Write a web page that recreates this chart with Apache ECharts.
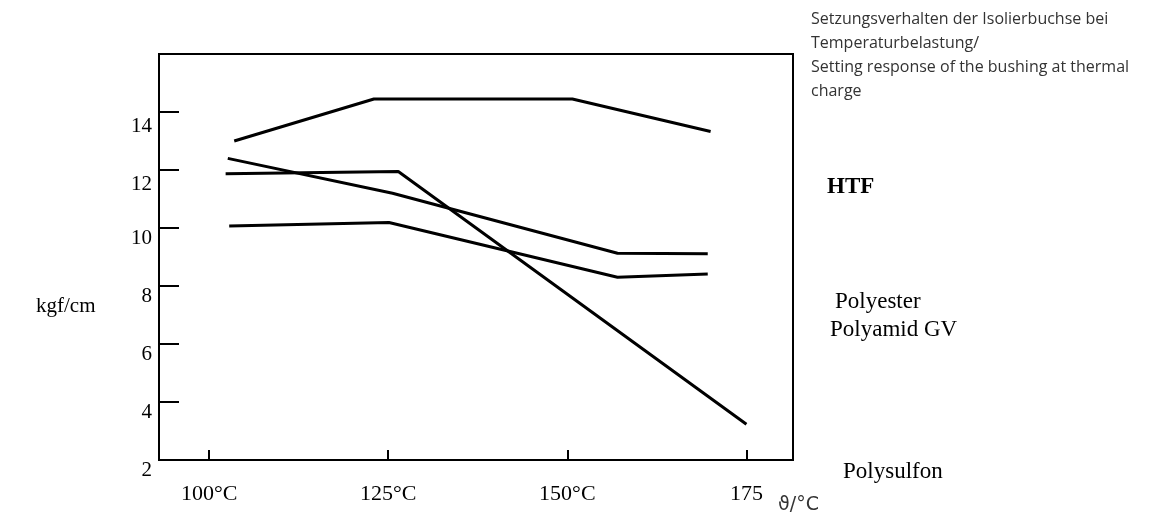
<!DOCTYPE html>
<html>
<head>
<meta charset="utf-8">
<script src="https://cdn.jsdelivr.net/npm/echarts@6/dist/echarts.min.js"></script>
<style>
html, body { margin: 0; padding: 0; background: #fff; }
#main { width: 1168px; height: 515px; }
</style>
</head>
<body>
<div id="main"></div>
<script>
// Temperaturen (°C) und Setzkraft (kgf/cm)
var htfTemp = [103.5, 123.0, 150.7, 170.0];
var htfVal = [13.0, 14.45, 14.45, 13.33];

var polyesterTemp = [102.6, 125.6, 157.0, 169.6];
var polyesterVal = [12.4, 11.2, 9.13, 9.11];

var polysulfonTemp = [102.3, 126.4, 175.0];
var polysulfonVal = [11.87, 11.95, 3.23];

var polyamidTemp = [102.8, 125.1, 157.0, 169.6];
var polyamidVal = [10.07, 10.19, 8.3, 8.41];

var xTicks = [100, 125, 150, 175];
var xTickLabels = ['100°C', '125°C', '150°C', '175'];
var yTicks = [2, 4, 6, 8, 10, 12, 14];

function pairs(xs, ys) {
    return xs.map(function (x, i) { return [x, ys[i]]; });
}

var serif = '"Liberation Serif", "DejaVu Serif", serif';

var myChart = echarts.init(document.getElementById('main'));

function lineSeries(name, xs, ys) {
    return {
        name: name,
        type: 'line',
        data: pairs(xs, ys),
        symbol: 'none',
        lineStyle: { color: '#000', width: 3 },
        animation: false
    };
}

var option = {
    backgroundColor: '#fff',
    animation: false,
    grid: {
        left: 159,
        top: 54,
        width: 634,
        height: 406,
        show: true,
        borderColor: '#000',
        borderWidth: 2
    },
    xAxis: {
        type: 'value',
        min: 93,
        max: 181.5,
        axisLine: { lineStyle: { color: '#000', width: 2 } },
        splitLine: { show: false },
        axisTick: {
            inside: true,
            length: 10,
            customValues: xTicks,
            lineStyle: { color: '#000', width: 2 }
        },
        axisLabel: {
            customValues: xTicks,
            formatter: function (v) {
                return xTickLabels[xTicks.indexOf(v)];
            },
            margin: 23,
            color: '#000',
            fontFamily: serif,
            fontSize: 22
        }
    },
    yAxis: {
        type: 'value',
        min: 2,
        max: 16,
        interval: 2,
        axisLine: { lineStyle: { color: '#000', width: 2 } },
        splitLine: { show: false },
        axisTick: {
            inside: true,
            length: 20,
            customValues: yTicks,
            lineStyle: { color: '#000', width: 2 }
        },
        axisLabel: {
            customValues: yTicks,
            margin: 7,
            verticalAlign: 'top',
            formatter: function (v) {
                // die oberen Beschriftungen sitzen im Original etwas tiefer
                return v >= 12 ? '{lo|' + v + '}' : '{n|' + v + '}';
            },
            rich: {
                n: { fontFamily: serif, fontSize: 21, color: '#000', lineHeight: 21 },
                lo: { fontFamily: serif, fontSize: 21, color: '#000', lineHeight: 21, padding: [8, 0, 0, 0] }
            }
        }
    },
    graphic: [
        {
            type: 'text', left: 811, top: 7,
            style: {
                text: 'Setzungsverhalten der Isolierbuchse bei\nTemperaturbelastung/\nSetting response of the bushing at thermal\ncharge',
                fill: '#333', font: '16px "Open Sans", sans-serif', lineHeight: 24
            }
        },
        {
            type: 'text', left: 36, top: 296,
            style: { text: 'kgf/cm', fill: '#000', font: '21px ' + serif }
        },
        {
            type: 'text', left: 827, top: 176,
            style: { text: 'HTF', fill: '#000', font: 'bold 23px ' + serif }
        },
        {
            type: 'text', left: 835, top: 290,
            style: { text: 'Polyester', fill: '#000', font: '23px ' + serif }
        },
        {
            type: 'text', left: 830, top: 318,
            style: { text: 'Polyamid GV', fill: '#000', font: '23px ' + serif }
        },
        {
            type: 'text', left: 843, top: 460,
            style: { text: 'Polysulfon', fill: '#000', font: '23px ' + serif }
        },
        {
            type: 'text', left: 778, top: 496,
            style: { text: 'ϑ/°C', fill: '#333', font: '19px "DejaVu Sans", sans-serif' }
        }
    ],
    series: [
        lineSeries('HTF', htfTemp, htfVal),
        lineSeries('Polyester', polyesterTemp, polyesterVal),
        lineSeries('Polysulfon', polysulfonTemp, polysulfonVal),
        lineSeries('Polyamid GV', polyamidTemp, polyamidVal)
    ]
};

myChart.setOption(option);
</script>
</body>
</html>
